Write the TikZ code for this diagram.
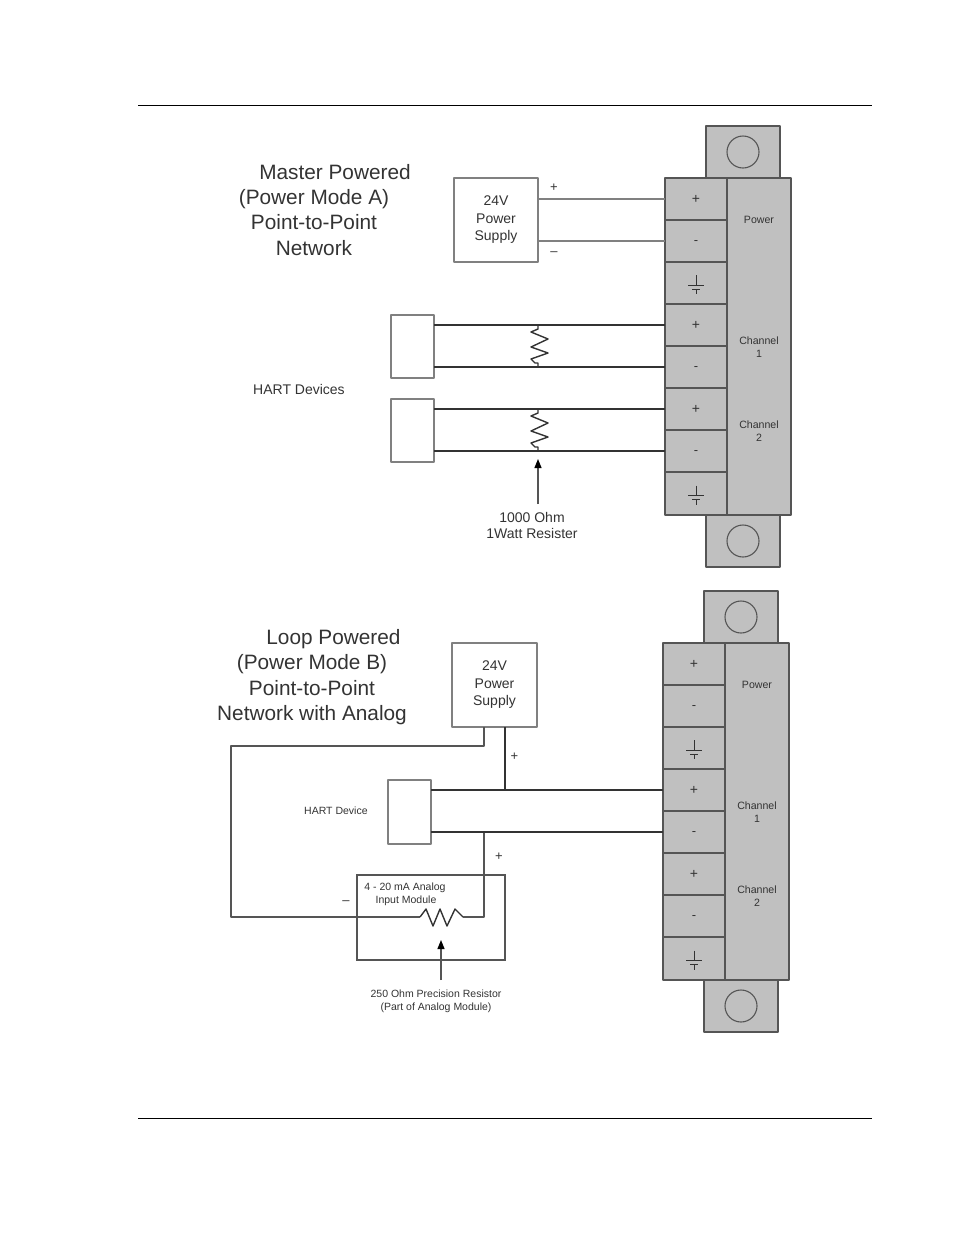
\documentclass[tikz,border=0pt]{standalone}
\usepackage{fontspec}
\setmainfont{Liberation Sans}
\usetikzlibrary{arrows.meta}
\definecolor{ink}{HTML}{333333}
\definecolor{frame}{HTML}{555555}
\definecolor{blockfill}{HTML}{C0C0C0}
\newcommand{\fs}[1]{\fontsize{#1}{#1}\selectfont}
\newcommand{\lowminus}{\raisebox{-3.5pt}[0pt][0pt]{\fs{13}-}}
\tikzset{
  body/.style={draw=frame,fill=blockfill,line width=1.4pt,inner sep=0pt,outer sep=0pt,anchor=north west,line join=round},
  term/.style={body,minimum width=62pt,minimum height=#1,text=ink,font=\fs{14},anchor=north west},
  mount/.style={body,minimum width=74pt,minimum height=52pt},
  hole/.style={circle,draw=frame,line width=1.1pt,minimum size=32pt,inner sep=0pt,outer sep=0pt},
  blocktext/.style={text=ink,font=\fs{10.6},align=center,inner sep=0pt},
  title/.style={text=ink,font=\fs{20.8},inner sep=0pt,anchor=base},
  lab/.style={text=ink,font=\fs{14},align=center,inner sep=0pt},
  smalllab/.style={text=ink,font=\fs{10.5},align=center,inner sep=0pt},
  sign/.style={text=ink,font=\fs{13},inner sep=0pt},
  box/.style={draw=frame!75,fill=white,line width=1.3pt,inner sep=0pt,outer sep=0pt,anchor=north west,line join=round},
  thick wire/.style={draw=ink,line width=1.9pt},
  thin wire/.style={draw=frame,line width=1.1pt,line join=round},
  light wire/.style={draw=frame!75,line width=1.1pt},
  resistor/.style={draw=ink,line width=1.4pt,line join=round},
  pointer/.style={draw=frame,line width=1.2pt,-{Triangle[length=9pt,width=7pt,color=black]}},
  rule/.style={draw=black,line width=1pt},
  pics/gnd/.style={code={
    \draw[draw=ink,line width=1pt] (0,-8)--(0,2) (-8,2)--(8,2) (-4,6)--(4,6) (0,6)--(0,11);
  }},
  pics/vres/.style={code={
    \draw[resistor] (0,0)--(0,4)--(-7,7)--(10,14)--(-7,22)--(10,28)--(-7,34)--(-3,38)--(0,38)--(0,42);
  }},
}
\newcommand{\termblock}[3]{%
  \begin{scope}[shift={(#2,#3)}]
    \node[mount] (#1mt) at (706,126) {};
    \node[mount] (#1mb) at (706,515) {};
    \node[hole] (#1ht) at (743,152) {};
    \node[hole] (#1hb) at (743,541) {};
    \node[body,minimum width=64pt,minimum height=337pt] (#1side) at (727,178) {};
    \node[term=42pt] (#1t1) at (665,178) {+};
    \node[term=42pt] (#1t2) at (665,220) {\lowminus};
    \node[term=42pt] (#1t3) at (665,262) {};
    \node[term=42pt] (#1t4) at (665,304) {+};
    \node[term=42pt] (#1t5) at (665,346) {\lowminus};
    \node[term=42pt] (#1t6) at (665,388) {+};
    \node[term=42pt] (#1t7) at (665,430) {\lowminus};
    \node[term=43pt] (#1t8) at (665,472) {};
    \pic at (#1t3.center) {gnd};
    \pic at (#1t8.center) {gnd};
    \node[blocktext] (#1pw) at (759,219.5) {Power};
    \node[blocktext] (#1c1) at (759,347) {Channel\\[2pt]1};
    \node[blocktext] (#1c2) at (759,431) {Channel\\[2pt]2};
  \end{scope}}
\begin{document}
\begin{tikzpicture}[x=1pt,y=-1pt]
\useasboundingbox (0,0) rectangle (954,1235);
\coordinate (ra) at (138,105.5); \coordinate (rb) at (872,105.5);
\coordinate (rc) at (138,1118.5); \coordinate (rd) at (872,1118.5);
\draw[rule] (ra) -- (rb);
\draw[rule] (rc) -- (rd);

% --- upper diagram
\termblock{a}{0}{0}
\node[title] (titleA1) at (335,179) {Master Powered};
\node[title] (titleA2) at (314,204) {(Power Mode A)};
\node[title] (titleA3) at (314,229) {Point-to-Point};
\node[title] (titleA4) at (314,255) {Network};
\node[box,minimum width=84pt,minimum height=84pt,align=center,text=ink,font=\fs{14}] (apsu) at (454,178) {24V\\[3.5pt]Power\\[3.5pt]Supply};
\draw[light wire] (apsu.east |- at1.west) -- (at1.west);
\draw[light wire] (apsu.east |- at2.west) -- (at2.west);
\node[sign] (aplus) at (554,188) {+};
\node[sign] (aminus) at (554,254) {–};
\node[box,minimum width=43pt,minimum height=63pt] (adev1) at (391,315) {};
\node[box,minimum width=43pt,minimum height=63pt] (adev2) at (391,399) {};
\draw[thick wire] (adev1.east |- at4.west) -- (at4.west);
\draw[thick wire] (adev1.east |- at5.west) -- (at5.west);
\draw[thick wire] (adev2.east |- at6.west) -- (at6.west);
\draw[thick wire] (adev2.east |- at7.west) -- (at7.west);
\coordinate (ar1) at (538,325);
\coordinate (ar2) at (538,409);
\pic at (ar1) {vres};
\pic at (ar2) {vres};
\node[lab,anchor=west] (ahart) at (253,389.5) {HART Devices};
\node[lab] (ares) at (532,525.5) {1000 Ohm\\[2pt]1Watt Resister};
\draw[pointer] (538,504) -- (538,459);

% --- lower diagram
\termblock{b}{-2}{465}
\node[title] (titleB1) at (333.5,644) {Loop Powered};
\node[title] (titleB2) at (312,669) {(Power Mode B)};
\node[title] (titleB3) at (312,695) {Point-to-Point};
\node[title] (titleB4) at (312,720) {Network with Analog};
\node[box,minimum width=85pt,minimum height=84pt,align=center,text=ink,font=\fs{14}] (bpsu) at (452,643) {24V\\[3.5pt]Power\\[3.5pt]Supply};
\node[box,minimum width=43pt,minimum height=64pt] (bdev) at (388,780) {};
\node[smalllab,anchor=west] (bhart) at (304,811) {HART Device};
\draw[thick wire] (bdev.east |- bt4.west) -- (bt4.west);
\draw[thick wire] (bdev.east |- bt5.west) -- (bt5.west);
\coordinate (bj1) at (505,790);
\coordinate (bj2) at (484,833);
\draw[thick wire] (bj1 |- bpsu.south) -- (bj1);
\node[draw=frame,line width=1.1pt,inner sep=0pt,outer sep=0pt,anchor=north west,minimum width=148pt,minimum height=85pt] (bmod) at (357,875) {};
\node[smalllab,anchor=north] (bmodlab) at (405,882.5) {4 - 20 mA Analog\\[2.5pt]\hspace*{2pt}Input Module};
\draw[thin wire] (bj2 |- bpsu.south) -- (484,746) -- (231,746) -- (231,917) -- (420,917);
\draw[resistor] (420,917) -- (426,909) -- (433,926) -- (440,909) -- (447,926) -- (455,909) -- (463,917);
\draw[thin wire] (463,917) -- (484,917) -- (bj2);
\node[sign] (bplus1) at (514.5,757) {+};
\node[sign] (bplus2) at (499,857) {+};
\node[sign] (bminus) at (346,903) {–};
\node[smalllab] (bres) at (436,1001.5) {250 Ohm Precision Resistor\\[2pt](Part of Analog Module)};
\draw[pointer] (441,980) -- (441,940);
\end{tikzpicture}
\end{document}
